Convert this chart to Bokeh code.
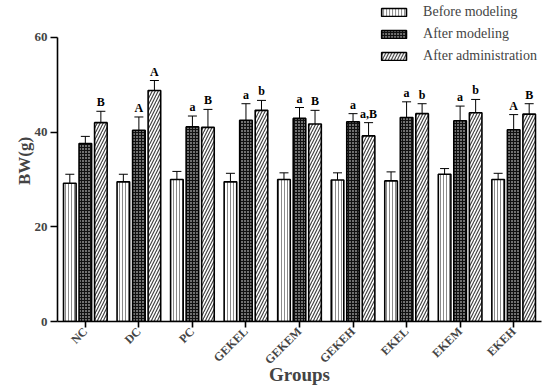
import math
from bokeh.plotting import figure
from bokeh.models import ColumnDataSource, Whisker, Legend, LegendItem, FixedTicker, Range1d
from bokeh.core.properties import value
from bokeh.embed import file_html
from bokeh.resources import INLINE

groups = ["NC", "DC", "PC", "GEKEL", "GEKEM", "GEKEH", "EKEL", "EKEM", "EKEH"]
before = [29.2, 29.5, 30.0, 29.5, 30.0, 29.9, 29.7, 31.1, 30.0]
before_err = [1.9, 1.6, 1.7, 1.8, 1.4, 1.5, 1.9, 1.2, 1.3]
after = [37.6, 40.4, 41.1, 42.5, 42.9, 42.2, 43.1, 42.4, 40.5]
after_err = [1.5, 2.8, 2.3, 3.5, 2.3, 1.7, 3.3, 3.1, 3.2]
admin = [42.0, 48.8, 41.0, 44.6, 41.7, 39.2, 43.9, 44.1, 43.8]
admin_err = [2.4, 2.1, 3.8, 2.1, 2.9, 2.8, 2.1, 2.8, 2.2]
after_sig = ["", "A", "a", "a", "a", "a", "a", "a", "A"]
admin_sig = ["B", "A", "B", "b", "B", "a,B", "b", "b", "B"]
series_names = ["Before modeling", "After modeling", "After administration"]
y_ticks = [0, 20, 40, 60]

SERIF = "Liberation Serif"
xpos = list(range(1, len(groups) + 1))
off = 0.29
bw = 0.235

p = figure(width=550, height=387, output_backend="svg", toolbar_location=None,
           x_range=Range1d(0.48, 9.52), y_range=Range1d(0, 67.8),
           min_border_left=57, min_border_right=9, min_border_top=0, min_border_bottom=66)
p.outline_line_color = None
p.xgrid.grid_line_color = None
p.ygrid.grid_line_color = None
p.background_fill_color = "white"

def src(vals, errs, shift):
    x = [v + shift for v in xpos]
    return ColumnDataSource(dict(x=x, top=vals, lo=[v - e for v, e in zip(vals, errs)],
                                 hi=[v + e for v, e in zip(vals, errs)]))

s1 = src(before, before_err, -off)
s2 = src(after, after_err, 0)
s3 = src(admin, admin_err, off)

r1 = p.vbar(x="x", top="top", width=bw, source=s1, fill_color="white", line_color="black",
            line_width=1.6, hatch_pattern="vertical_line", hatch_color="#8a8a8a",
            hatch_scale=3, hatch_weight=1)
r2 = p.vbar(x="x", top="top", width=bw, source=s2, fill_color="#111111", line_color="black",
            line_width=1.6, hatch_pattern="dot", hatch_color="white",
            hatch_scale=3, hatch_weight=1.5)
r3 = p.vbar(x="x", top="top", width=bw, source=s3, fill_color="white", line_color="black",
            line_width=1.6, hatch_pattern="right_diagonal_line", hatch_color="#444444",
            hatch_scale=6, hatch_weight=1.2)

for s in (s1, s2, s3):
    w = Whisker(base="x", upper="hi", lower="lo", source=s, line_color="black", line_width=1)
    w.upper_head.size = 9
    w.lower_head.size = 9
    w.upper_head.line_width = 1
    w.lower_head.line_width = 1
    p.add_layout(w)

t2 = ColumnDataSource(dict(x=[v for v in xpos], y=[a + e for a, e in zip(after, after_err)], t=after_sig))
t3 = ColumnDataSource(dict(x=[v + off for v in xpos], y=[a + e for a, e in zip(admin, admin_err)], t=admin_sig))
for t in (t2, t3):
    p.text(x="x", y="y", text="t", source=t, text_font=value(SERIF), text_font_style="bold",
           text_font_size="12px", text_align="center", text_baseline="bottom", y_offset=-2,
           text_color="black")

legend = Legend(items=[LegendItem(label=series_names[0], renderers=[r1]),
                       LegendItem(label=series_names[1], renderers=[r2]),
                       LegendItem(label=series_names[2], renderers=[r3])],
                location="top_right", border_line_color=None, background_fill_alpha=0,
                glyph_width=31, glyph_height=10, label_text_font=SERIF,
                label_text_font_size="14px", label_standoff=14, spacing=6,
                padding=0, margin=4, label_height=12)
p.add_layout(legend)

p.xaxis.ticker = FixedTicker(ticks=xpos)
p.xaxis.major_label_overrides = {i: g for i, g in zip(xpos, groups)}
p.xaxis.major_label_orientation = math.pi / 4
p.xaxis.major_label_text_font = SERIF
p.xaxis.major_label_text_font_style = "bold"
p.xaxis.major_label_text_font_size = "12px"
p.xaxis.major_label_standoff = 2
p.xaxis.minor_tick_line_color = None
p.xaxis.major_tick_out = 6
p.xaxis.major_tick_in = 0
p.xaxis.axis_line_width = 1.6
p.xaxis.major_tick_line_width = 1.6
p.xaxis.axis_label = "Groups"
p.xaxis.axis_label_text_font = SERIF
p.xaxis.axis_label_text_font_style = "bold"
p.xaxis.axis_label_text_font_size = "19px"
p.xaxis.axis_label_standoff = -11

p.yaxis.ticker = FixedTicker(ticks=y_ticks)
p.yaxis.bounds = (0, 60)
p.yaxis.major_label_text_font = SERIF
p.yaxis.major_label_text_font_style = "bold"
p.yaxis.major_label_text_font_size = "13px"
p.yaxis.minor_tick_line_color = None
p.yaxis.major_tick_out = 7
p.yaxis.major_tick_in = 0
p.yaxis.axis_line_width = 1.6
p.yaxis.major_tick_line_width = 1.6
p.yaxis.major_label_standoff = 3
p.yaxis.axis_label = "BW(g)"
p.yaxis.axis_label_text_font = SERIF
p.yaxis.axis_label_text_font_style = "bold"
p.yaxis.axis_label_text_font_size = "17px"
p.yaxis.axis_label_standoff = -2

open("out.html", "w").write(file_html(p, INLINE))
